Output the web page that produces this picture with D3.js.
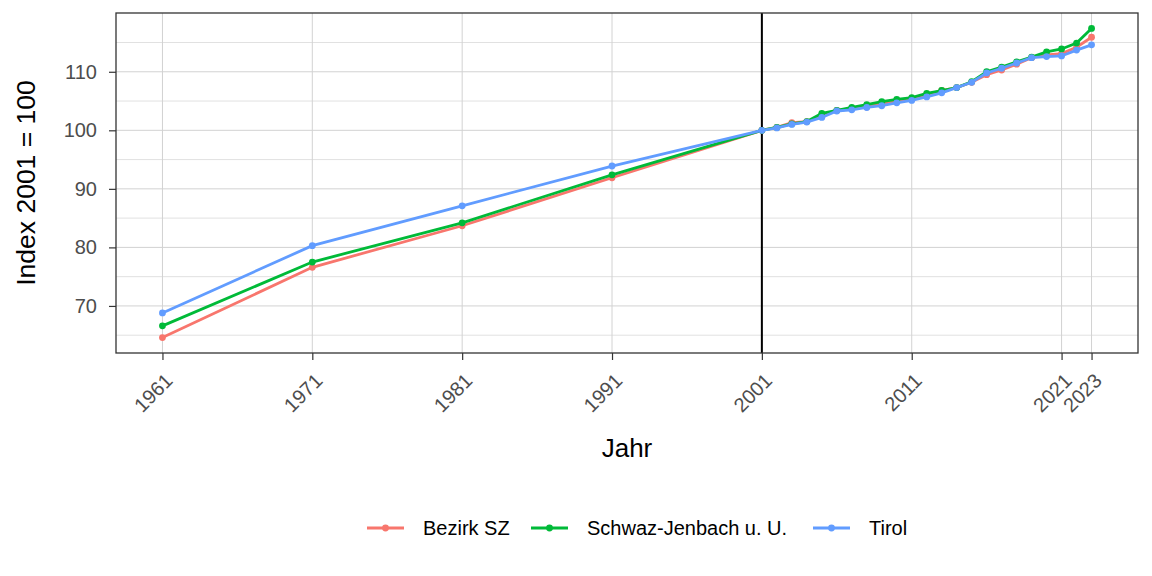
<!DOCTYPE html>
<html>
<head>
<meta charset="utf-8">
<script src="https://cdn.jsdelivr.net/npm/d3@7"></script>
<style>
  body { margin: 0; background: #fff; }
  svg { font-family: "Liberation Sans", Arial, sans-serif; }
</style>
</head>
<body>
<div id="chart"></div>
<script>
(function(){
    "use strict";

    // data
    var years = [1961, 1971, 1981, 1991, 2001, 2002, 2003, 2004, 2005, 2006, 2007, 2008, 2009, 2010,
                 2011, 2012, 2013, 2014, 2015, 2016, 2017, 2018, 2019, 2020, 2021, 2022, 2023];
    var bezirkSZ = [64.6, 76.6, 83.7, 91.9, 100, 100.5, 101.3, 101.5, 102.5, 103.4, 103.7, 104.0, 104.5, 104.9,
                    105.3, 106.1, 106.8, 107.3, 108.2, 109.5, 110.3, 111.3, 112.4, 112.9, 113.1, 114.2, 115.9];
    var schwazJenbach = [66.6, 77.5, 84.2, 92.4, 100, 100.5, 101.1, 101.5, 102.9, 103.4, 103.9, 104.4, 104.9, 105.3,
                         105.6, 106.3, 106.8, 107.3, 108.3, 110.0, 110.8, 111.7, 112.5, 113.4, 113.9, 114.9, 117.4];
    var tirol = [68.8, 80.3, 87.1, 93.9, 100, 100.4, 101.0, 101.4, 102.2, 103.3, 103.5, 103.9, 104.2, 104.7,
                 105.1, 105.7, 106.4, 107.3, 108.2, 109.8, 110.6, 111.5, 112.4, 112.6, 112.7, 113.7, 114.6];
    var seriesNames = ["Bezirk SZ", "Schwaz-Jenbach u. U.", "Tirol"];
    var seriesColors = ["#F8766D", "#00BA38", "#619CFF"];
    var xTicks = [1961, 1971, 1981, 1991, 2001, 2011, 2021, 2023];
    var yTicks = [70, 80, 90, 100, 110];
    var yMinor = [65, 75, 85, 95, 105, 115];

    var series = [bezirkSZ, schwazJenbach, tirol].map(function(vals, i) {
        return {
            name: seriesNames[i],
            color: seriesColors[i],
            values: vals.map(function(v, j) { return {year: years[j], value: v}; })
        };
    });

    var W = 1152, H = 576;
    var margin = {top: 13, right: 14, bottom: 223, left: 116};
    var width = W - margin.left - margin.right,
        height = H - margin.top - margin.bottom;

    var svg = d3.select("#chart").append("svg")
        .attr("width", W)
        .attr("height", H);

    var g = svg.append("g")
        .attr("transform", "translate(" + margin.left + "," + margin.top + ")");

    // ggplot-like expansion of 5%
    var xr = [1961, 2023], xpad = (xr[1] - xr[0]) * 0.05;
    var allVals = bezirkSZ.concat(schwazJenbach, tirol);
    var yr = d3.extent(allVals), ypad = (yr[1] - yr[0]) * 0.05;

    var x = d3.scaleLinear().domain([xr[0] - xpad, xr[1] + xpad]).range([0, width]);
    var y = d3.scaleLinear().domain([yr[0] - ypad, yr[1] + ypad]).range([height, 0]);

    // grid
    g.append("g").selectAll("line.minor")
        .data(yMinor).enter().append("line")
        .attr("x1", 0).attr("x2", width)
        .attr("y1", function(d) { return y(d); }).attr("y2", function(d) { return y(d); })
        .attr("stroke", "#d9d9d9").attr("stroke-width", 0.8);
    g.append("g").selectAll("line.major")
        .data(yTicks).enter().append("line")
        .attr("x1", 0).attr("x2", width)
        .attr("y1", function(d) { return y(d); }).attr("y2", function(d) { return y(d); })
        .attr("stroke", "#d2d2d2").attr("stroke-width", 1);
    g.append("g").selectAll("line.vmajor")
        .data(xTicks).enter().append("line")
        .attr("y1", 0).attr("y2", height)
        .attr("x1", function(d) { return x(d); }).attr("x2", function(d) { return x(d); })
        .attr("stroke", "#d2d2d2").attr("stroke-width", 1);

    // reference line at 2001
    g.append("line")
        .attr("x1", x(2001)).attr("x2", x(2001))
        .attr("y1", 0).attr("y2", height)
        .attr("stroke", "#000").attr("stroke-width", 2);

    // lines and points
    var line = d3.line()
        .x(function(d) { return x(d.year); })
        .y(function(d) { return y(d.value); });

    var sg = g.selectAll(".series").data(series).enter().append("g");
    sg.append("path")
        .attr("d", function(d) { return line(d.values); })
        .attr("fill", "none")
        .attr("stroke", function(d) { return d.color; })
        .attr("stroke-width", 2.8);
    sg.selectAll("circle")
        .data(function(d) { return d.values.map(function(v) { return {c: d.color, year: v.year, value: v.value}; }); })
        .enter().append("circle")
        .attr("cx", function(d) { return x(d.year); })
        .attr("cy", function(d) { return y(d.value); })
        .attr("r", 3.4)
        .attr("fill", function(d) { return d.c; });

    // panel border
    g.append("rect")
        .attr("width", width).attr("height", height)
        .attr("fill", "none").attr("stroke", "#333").attr("stroke-width", 1.3);

    // y axis
    var yAxis = g.append("g")
        .call(d3.axisLeft(y).tickValues(yTicks).tickSize(7).tickPadding(12));
    yAxis.select(".domain").remove();
    yAxis.selectAll(".tick line").attr("stroke", "#333").attr("stroke-width", 1.2);
    yAxis.selectAll(".tick text")
        .attr("fill", "#4d4d4d").style("font-size", "20px").attr("font-family", null);

    // x axis
    var xAxis = g.append("g")
        .attr("transform", "translate(0," + height + ")")
        .call(d3.axisBottom(x).tickValues(xTicks).tickFormat(d3.format("d")).tickSize(7));
    xAxis.select(".domain").remove();
    xAxis.selectAll(".tick line").attr("stroke", "#333").attr("stroke-width", 1.2);
    xAxis.selectAll(".tick text")
        .attr("fill", "#4d4d4d").style("font-size", "20px").attr("font-family", null)
        .attr("text-anchor", "end")
        .attr("dy", null).attr("y", 0)
        .attr("transform", "translate(11,29) rotate(-45)");

    // axis titles
    svg.append("text")
        .attr("x", margin.left + width / 2)
        .attr("y", 457)
        .attr("text-anchor", "middle")
        .style("font-size", "26px")
        .text("Jahr");
    svg.append("text")
        .attr("transform", "translate(35," + (margin.top + height / 2) + ") rotate(-90)")
        .attr("text-anchor", "middle")
        .style("font-size", "26.5px")
        .text("Index 2001 = 100");

    // legend
    var legendX = [367, 531, 813];
    var lg = svg.append("g").attr("transform", "translate(0,528)");
    series.forEach(function(s, i) {
        var item = lg.append("g").attr("transform", "translate(" + legendX[i] + ",0)");
        item.append("line").attr("x1", 0).attr("x2", 37).attr("y1", 0).attr("y2", 0)
            .attr("stroke", s.color).attr("stroke-width", 2.8);
        item.append("circle").attr("cx", 18.5).attr("cy", 0).attr("r", 3.4).attr("fill", s.color);
        item.append("text").attr("x", 56).attr("y", 0).attr("dy", "0.35em")
            .style("font-size", "20px").attr("fill", "#000").text(s.name);
    });
})();
</script>
</body>
</html>
